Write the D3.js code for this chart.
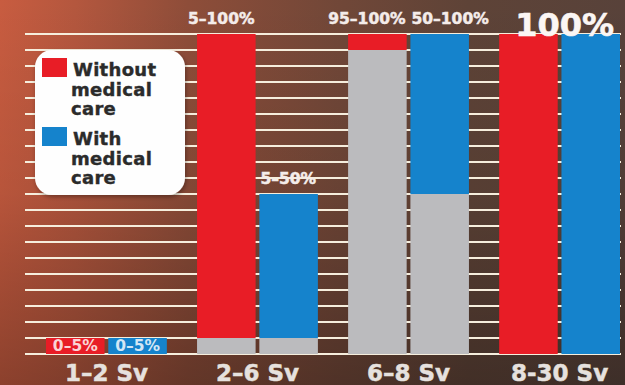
<!DOCTYPE html>
<html>
<head>
<meta charset="utf-8">
<script src="https://cdn.jsdelivr.net/npm/d3@7"></script>
<style>
  html, body { margin: 0; padding: 0; background: #6a4638; }
  svg { display: block; }
  text { font-family: "DejaVu Sans", sans-serif; font-weight: bold; }
</style>
</head>
<body>
<div id="chart"></div>
<script>
// ---- data ----
const categories = ["1–2 Sv", "2–6 Sv", "6–8 Sv", "8-30 Sv"];
const seriesNames = ["Without medical care", "With medical care"];
const withoutLow  = [0, 5, 95, 0];
const withoutHigh = [5, 100, 100, 100];
const withLow     = [0, 5, 50, 0];
const withHigh    = [5, 50, 100, 100];
const withoutLabels = ["0–5%", "5–100%", "95–100%", ""];
const withLabels    = ["0–5%", "5–50%", "50–100%", ""];
const groupLabels   = ["", "", "", "100%"];
const gridTicks = d3.range(0, 101, 5);

// ---- setup ----
const W = 625, H = 385;
const svg = d3.select("#chart").append("svg").attr("width", W).attr("height", H);
const defs = svg.append("defs");

const hg = defs.append("linearGradient").attr("id", "bgH").attr("x1", 0).attr("x2", 1).attr("y1", 0).attr("y2", 0);
[[0, "#c85c40"], [0.12, "#b4573e"], [0.3, "#8e4d39"], [0.55, "#704738"], [0.75, "#5e4337"], [1, "#58423a"]]
  .forEach(([o, c]) => hg.append("stop").attr("offset", o).attr("stop-color", c));
const vg = defs.append("linearGradient").attr("id", "bgV").attr("x1", 0).attr("x2", 0).attr("y1", 0).attr("y2", 1);
[[0, 0], [0.5, 0.08], [1, 0.3]]
  .forEach(([o, a]) => vg.append("stop").attr("offset", o).attr("stop-color", "#000").attr("stop-opacity", a));
const sh = defs.append("filter").attr("id", "shadow").attr("x", "-10%").attr("y", "-10%").attr("width", "130%").attr("height", "130%");
sh.append("feDropShadow").attr("dx", 1).attr("dy", 2).attr("stdDeviation", 2).attr("flood-color", "#000").attr("flood-opacity", 0.35);

svg.append("rect").attr("width", W).attr("height", H).attr("fill", "url(#bgH)");
svg.append("rect").attr("width", W).attr("height", H).attr("fill", "url(#bgV)");

const y = d3.scaleLinear().domain([0, 100]).range([354, 34]);
const x = d3.scaleBand().domain(categories).range([46, 620]).paddingInner(0.2).paddingOuter(0);
const xs = d3.scaleBand().domain(seriesNames).range([0, x.bandwidth()]).paddingInner(0.06);

const colors = { [seriesNames[0]]: "#e81d26", [seriesNames[1]]: "#1583cc" };
const gray = "#bbbbbe";

// gridlines
svg.append("g").selectAll("line").data(gridTicks).join("line")
  .attr("x1", 25).attr("x2", 621)
  .attr("y1", d => y(d)).attr("y2", d => y(d))
  .attr("stroke", "#f6eedd").attr("stroke-width", 2);

// bars
const rows = [];
categories.forEach((c, i) => {
  rows.push({ cat: c, s: seriesNames[0], lo: withoutLow[i], hi: withoutHigh[i], label: withoutLabels[i] });
  rows.push({ cat: c, s: seriesNames[1], lo: withLow[i], hi: withHigh[i], label: withLabels[i] });
});

const bars = svg.append("g");
bars.selectAll("rect.gray").data(rows.filter(r => r.lo > 0)).join("rect")
  .attr("class", "gray")
  .attr("x", d => x(d.cat) + xs(d.s)).attr("width", xs.bandwidth())
  .attr("y", d => y(d.lo)).attr("height", d => y(0) - y(d.lo))
  .attr("fill", gray);
bars.selectAll("rect.val").data(rows).join("rect")
  .attr("class", "val")
  .attr("x", d => x(d.cat) + xs(d.s)).attr("width", xs.bandwidth())
  .attr("y", d => y(d.hi)).attr("height", d => y(d.lo) - y(d.hi))
  .attr("fill", d => colors[d.s]);

// value labels
const labG = svg.append("g");
const labelNodes = {};
rows.filter(r => r.label).forEach(r => {
  const cx = x(r.cat) + xs(r.s) + xs.bandwidth() / 2;
  const inside = r.lo === 0 && (y(r.lo) - y(r.hi)) < 30;
  const t = labG.append("text")
    .attr("x", cx)
    .attr("text-anchor", "middle")
    .attr("font-size", 15.5)
    .text(r.label);
  if (inside) {
    t.attr("y", y(r.lo) - 3).attr("fill", "#ffffff").attr("fill-opacity", 0.82);
  } else {
    t.attr("y", y(r.hi) - 10).attr("fill", "#f4ecea")
      .attr("stroke", "#f4ecea").attr("stroke-width", 0.5);
  }
  (labelNodes[r.cat] = labelNodes[r.cat] || []).push({ t, cx, inside });
});
// push apart overlapping top labels within a group
Object.values(labelNodes).forEach(arr => {
  if (arr.length === 2 && !arr[0].inside && !arr[1].inside) {
    const w0 = arr[0].t.node().getComputedTextLength();
    const w1 = arr[1].t.node().getComputedTextLength();
    const gap = (arr[1].cx - w1 / 2) - (arr[0].cx + w0 / 2);
    if (gap < 6) {
      const mid = (arr[0].cx + arr[1].cx) / 2;
      arr[0].t.attr("text-anchor", "end").attr("x", mid - 3);
      arr[1].t.attr("text-anchor", "start").attr("x", mid + 3);
    }
  }
});
// group labels (100%)
svg.append("g").selectAll("text").data(categories.filter((c, i) => groupLabels[i]))
  .join("text")
  .attr("x", d => x(d) + x.bandwidth() / 2 + 5)
  .attr("y", 36)
  .attr("text-anchor", "middle")
  .attr("font-size", 32)
  .attr("fill", "#fbf6f4")
  .attr("stroke", "#fbf6f4").attr("stroke-width", 0.6)
  .text(d => groupLabels[categories.indexOf(d)]);

// category axis labels
const xAxis = d3.axisBottom(x).tickSize(0).tickPadding(0);
const ax = svg.append("g").attr("transform", `translate(0,${381})`).call(xAxis);
ax.select(".domain").remove();
ax.selectAll("text")
  .attr("dy", 0).attr("y", 0)
  .attr("font-size", 23)
  .attr("font-family", "DejaVu Sans, sans-serif")
  .attr("font-weight", "bold")
  .attr("fill", "#e6e1de")
  .attr("stroke", "#e6e1de").attr("stroke-width", 0.5);

// legend
const lg = svg.append("g");
lg.append("rect").attr("x", 35).attr("y", 50).attr("width", 150).attr("height", 145).attr("rx", 17)
  .attr("fill", "#fefefe").attr("filter", "url(#shadow)");
const legendLines = [["Without", "medical", "care"], ["With", "medical", "care"]];
const legendTop = [58, 127];
seriesNames.forEach((s, i) => {
  lg.append("rect").attr("x", 42).attr("y", legendTop[i]).attr("width", 25).attr("height", 19).attr("fill", colors[s]);
  const t = lg.append("text").attr("x", 73).attr("y", legendTop[i] + 18).attr("font-size", 18)
    .attr("letter-spacing", 0.3).attr("fill", "#2b2b2b").attr("stroke", "#2b2b2b").attr("stroke-width", 0.4);
  legendLines[i].forEach((ln, j) => {
    t.append("tspan").attr("x", j === 0 ? 73 : 71).attr("dy", j === 0 ? 0 : 19.5).text(ln);
  });
});
</script>
</body>
</html>
